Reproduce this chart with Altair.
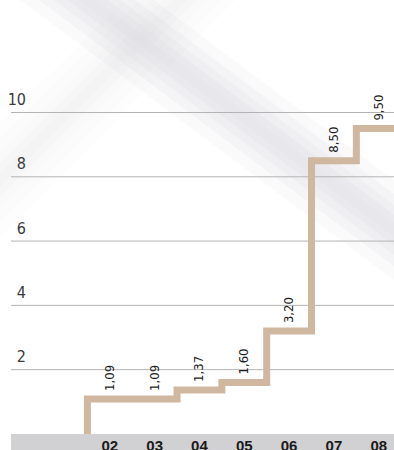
import altair as alt
import pandas as pd

# Series: yearly rate (percent), 2002-2008
years = [2002, 2003, 2004, 2005, 2006, 2007, 2008]
year_labels = ["02", "03", "04", "05", "06", "07", "08"]
rates = [1.09, 1.09, 1.37, 1.60, 3.20, 8.50, 9.50]
y_ticks = [2, 4, 6, 8, 10]

W, H = 394, 450
X_DOMAIN = [1999.55, 2008.34]
Y_DOMAIN = [-0.5, 13.5]
NARROW = "DejaVu Sans Condensed, Liberation Sans Narrow, sans-serif"

xs = alt.Scale(domain=X_DOMAIN, nice=False, zero=False)
ys = alt.Scale(domain=Y_DOMAIN, nice=False, zero=False)
x = alt.X("year:Q", scale=xs, axis=None)
y = alt.Y("rate:Q", scale=ys, axis=None)

# step series: rises out of the base band, runs off the right edge
step_df = pd.DataFrame({
    "year": [years[0] - 1] + years + [years[-1] + 1],
    "rate": [Y_DOMAIN[0]] + rates + [rates[-1]],
})
label_df = pd.DataFrame({
    "year": years,
    "rate": rates,
    "label": [f"{v:.2f}".replace(".", ",") for v in rates],
})
tick_df = pd.DataFrame({"rate": y_ticks, "label": [str(t) for t in y_ticks]})
year_df = pd.DataFrame({"year": years, "label": year_labels})
band_df = pd.DataFrame({"lo": [Y_DOMAIN[0]], "hi": [0]})

# soft diagonal light streaks in the background
streaks = []
for (x1, y1, x2, y2, base) in [(-30, -88, 450, 272, 1.0), (-40, 220, 220, -40, 0.4)]:
    for width, op in [(80, 0.12), (58, 0.13), (40, 0.14), (24, 0.15), (10, 0.12)]:
        streaks.append(
            alt.Chart().mark_rule(color="#d2d2da", strokeWidth=width,
                                  opacity=op * base, strokeCap="butt")
            .encode(x=alt.value(x1), y=alt.value(y1), x2=alt.value(x2), y2=alt.value(y2))
        )

grid = alt.Chart(tick_df).mark_rule(color="#b4b4b4", strokeWidth=1).encode(
    y=y, x=alt.value(11), x2=alt.value(W)
)
y_labels = alt.Chart(tick_df).mark_text(
    align="right", baseline="alphabetic", dy=-7.5, font=NARROW, fontSize=16, color="#3a3a3a"
).encode(y=y, x=alt.value(26), text="label:N")

line = alt.Chart(step_df).mark_line(
    interpolate="step", color="#cfb7a0", strokeWidth=7, clip=True,
    strokeJoin="miter", strokeCap="butt"
).encode(x=x, y=y)

values = alt.Chart(label_df).mark_text(
    angle=270, align="left", baseline="middle", dx=8, font=NARROW, fontSize=13, color="#1e1e1e"
).encode(x=x, y=y, text="label:N")

band = alt.Chart(band_df).mark_rect(color="#d1d1d3").encode(
    x=alt.value(11), x2=alt.value(W),
    y=alt.Y("lo:Q", scale=ys, axis=None), y2="hi:Q"
)
x_labels = alt.Chart(year_df).mark_text(
    font="Liberation Sans, Arial, sans-serif", fontWeight="bold", fontSize=15,
    baseline="alphabetic", align="center", color="#1a1a1a"
).encode(x=x, y=alt.value(450.5), text="label:N")

chart = alt.layer(*streaks, grid, y_labels, line, values, band, x_labels).properties(
    width=W, height=H, padding=0, autosize=alt.AutoSizeParams(type="none"),
    background="white",
).configure_view(stroke=None)

chart.save("out.html", embed_options={"renderer": "svg", "actions": False})
